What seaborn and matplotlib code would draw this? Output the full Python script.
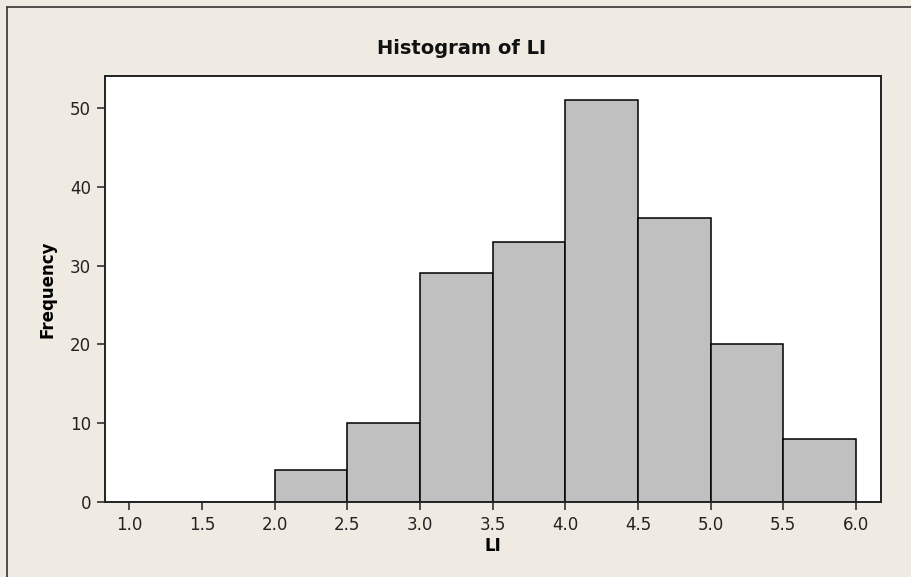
import numpy as np
import pandas as pd
import seaborn as sb
from matplotlib import pyplot as plt
from matplotlib.lines import Line2D

# bin edges and counts
bin_edges = [1.0, 1.5, 2.0, 2.5, 3.0, 3.5, 4.0, 4.5, 5.0, 5.5, 6.0]
counts = [0, 0, 4, 10, 29, 33, 51, 36, 20, 8]
x_ticks = [1.0, 1.5, 2.0, 2.5, 3.0, 3.5, 4.0, 4.5, 5.0, 5.5, 6.0]
y_ticks = [0, 10, 20, 30, 40, 50]

bg = '#EFEBE2'
sb.set_theme(style='white')
plt.rcParams['font.family'] = ['DejaVu Sans']

centers = [(bin_edges[i] + bin_edges[i + 1]) / 2 for i in range(len(counts))]
df = pd.DataFrame({'LI': centers, 'n': counts})

fig = plt.figure(figsize=(9.12, 5.77), dpi=100, facecolor=bg)
ax = fig.add_axes([105 / 912, 1 - 502 / 577, 776 / 912, 426 / 577])
ax.set_facecolor('white')

sb.histplot(data=df, x='LI', weights='n', bins=bin_edges, ax=ax,
            color='#C0C0C0', alpha=1, edgecolor='black', linewidth=1.1)

ax.set_xlim(0.834, 6.172)
ax.set_ylim(0, 54.05)
ax.set_xticks(x_ticks)
ax.set_xticklabels(['%.1f' % t for t in x_ticks])
ax.set_yticks(y_ticks)
ax.tick_params(axis='both', direction='out', length=6, width=1.1, color='#222222',
               labelsize=12, labelcolor='#222222', bottom=True, left=True, pad=4)
for s in ax.spines.values():
    s.set_color('#222222')
    s.set_linewidth(1.4)

ax.set_xlabel('LI', fontsize=12, fontweight='bold', color='black', labelpad=2)
ax.set_ylabel('Frequency', fontsize=12, fontweight='bold', color='black', labelpad=10)
fig.text(462 / 912, 1 - 48 / 577, 'Histogram of LI', ha='center', va='center',
         fontsize=14, fontweight='bold', color='#111111')

# outer frame lines (top and left)
fig.add_artist(Line2D([7 / 912, 1], [1 - 7 / 577, 1 - 7 / 577], transform=fig.transFigure,
                      color='#333333', linewidth=1.2))
fig.add_artist(Line2D([7 / 912, 7 / 912], [0, 1 - 7 / 577], transform=fig.transFigure,
                      color='#333333', linewidth=1.2))

plt.savefig('out.png', dpi=100, facecolor=bg)
